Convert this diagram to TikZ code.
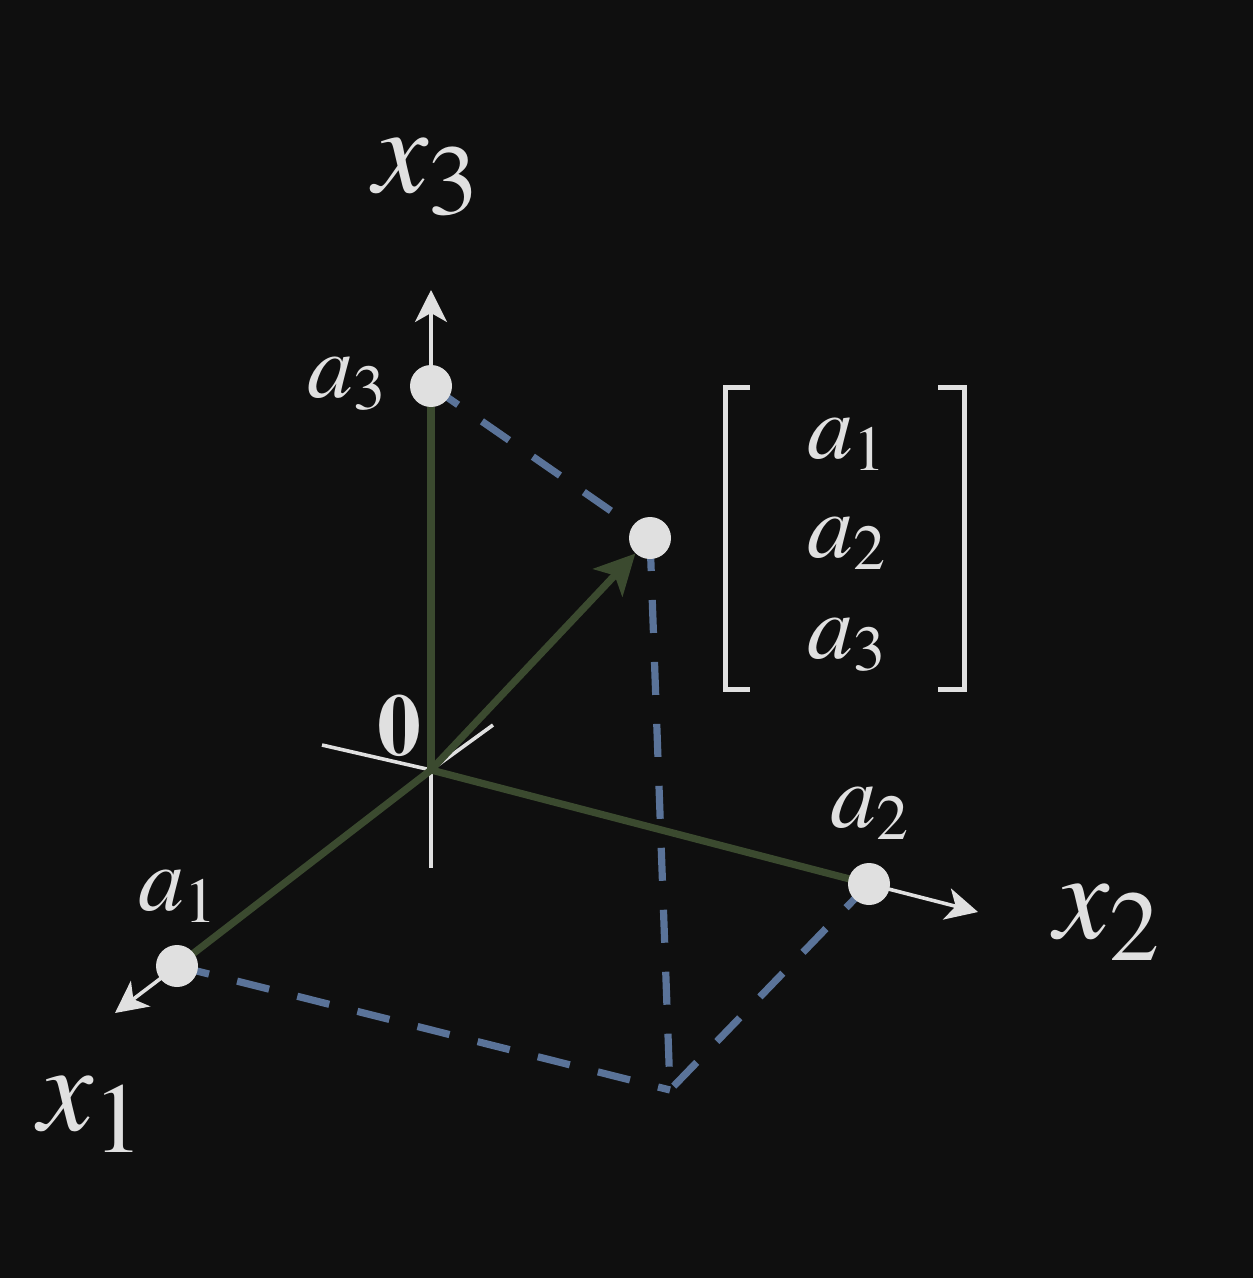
\documentclass[tikz,border=0pt]{standalone}
\usepackage{mathptmx}
\usetikzlibrary{arrows.meta}
\definecolor{bgc}{HTML}{0F0F0F}
\definecolor{fg}{HTML}{E0E0E0}
\definecolor{vecgreen}{HTML}{3B4A2F}
\definecolor{dashblue}{HTML}{5A7399}
\newcommand\axlab[2]{\fontsize{62}{62}\selectfont$#1$\raisebox{-11pt}{\fontsize{50}{50}\selectfont$#2$}}
\newcommand\ptlab[2]{\fontsize{46}{46}\selectfont$#1$\raisebox{-6pt}{\fontsize{32}{32}\selectfont$#2$}}
\pgfdeclarelayer{back}
\pgfdeclarelayer{lines}
\pgfsetlayers{back,lines,main}
\tikzset{
  dot/.style={circle,fill=fg,draw=none,inner sep=0pt,minimum size=21pt},
  thinaxis/.style={draw=fg,line width=1.8pt},
  axisarrow/.style={draw=fg,line width=1.8pt,-{Stealth[length=16pt,width=16pt,inset=4.5pt]}},
  comp/.style={draw=vecgreen,line width=3.6pt},
  vecarrow/.style={draw=vecgreen,line width=3.6pt,-{Stealth[length=20pt,width=20pt,inset=5pt]}},
  proj/.style={draw=dashblue,line width=3.6pt,dash pattern=on 16.5pt off 14.5pt},
  lab/.style={text=fg,inner sep=0pt,anchor=base west},
  bracket/.style={draw=fg,line width=2.6pt}
}
\begin{document}
\begin{tikzpicture}[x=0.5pt,y=-0.5pt]
\begin{pgfonlayer}{back}
\fill[bgc] (0,0) rectangle (1253,1278);
\end{pgfonlayer}
\useasboundingbox (0,0) rectangle (1253,1278);
% positions
\coordinate (O) at (431,770);
\coordinate (C) at (670,1090);
\coordinate (T1) at (115,1013);
\coordinate (T2) at (978,912);
\coordinate (T3) at (431,290);
\coordinate (N1) at (493,725);
\coordinate (N2) at (322,745);
\coordinate (N3) at (431,868);
% points
\node[dot] (A1) at (177,966) {};
\node[dot] (A2) at (869,884) {};
\node[dot] (A3) at (431,386) {};
\node[dot] (P) at (650,538) {};
\begin{pgfonlayer}{lines}
% negative axis stubs
\draw[thinaxis] (O) -- (N1);
\draw[thinaxis] (O) -- (N2);
\draw[thinaxis] (O) -- (N3);
% components
\draw[comp] (O) -- (A1.center);
\draw[comp] (O) -- (A2.center);
\draw[comp] (O) -- (A3.center);
\draw[vecarrow] (O) -- (P);
% projections
\draw[proj] (A3.center) -- (P.center);
\draw[proj] (P.center) -- (C);
\draw[proj] (A1.center) -- (C);
\draw[proj] (A2.center) -- (C);
% axis arrows
\draw[axisarrow] (A1.center) -- (T1);
\draw[axisarrow] (A2.center) -- (T2);
\draw[axisarrow] (A3.center) -- (T3);
\end{pgfonlayer}
% labels
\node[lab] (lx1) at (38,1130) {\axlab{x}{1}};
\node[lab] (lx2) at (1054,938) {\axlab{x}{2}};
\node[lab] (lx3) at (373,193) {\axlab{x}{3}};
\node[lab] (la1) at (138,910) {\ptlab{a}{1}};
\node[lab] (la2) at (830,827) {\ptlab{a}{2}};
\node[lab] (la3) at (307,397) {\ptlab{a}{3}};
\node[lab] (zero) at (377,755) {\fontsize{44}{44}\selectfont$\mathbf{0}$};
% column vector
\node[lab] (m1) at (807,458) {\ptlab{a}{1}};
\node[lab] (m2) at (807,557) {\ptlab{a}{2}};
\node[lab] (m3) at (807,658) {\ptlab{a}{3}};
\draw[bracket] (750,387.5) -- (725.5,387.5) -- (725.5,689.5) -- (750,689.5);
\draw[bracket] (938,387.5) -- (964.5,387.5) -- (964.5,689.5) -- (938,689.5);
\end{tikzpicture}
\end{document}
